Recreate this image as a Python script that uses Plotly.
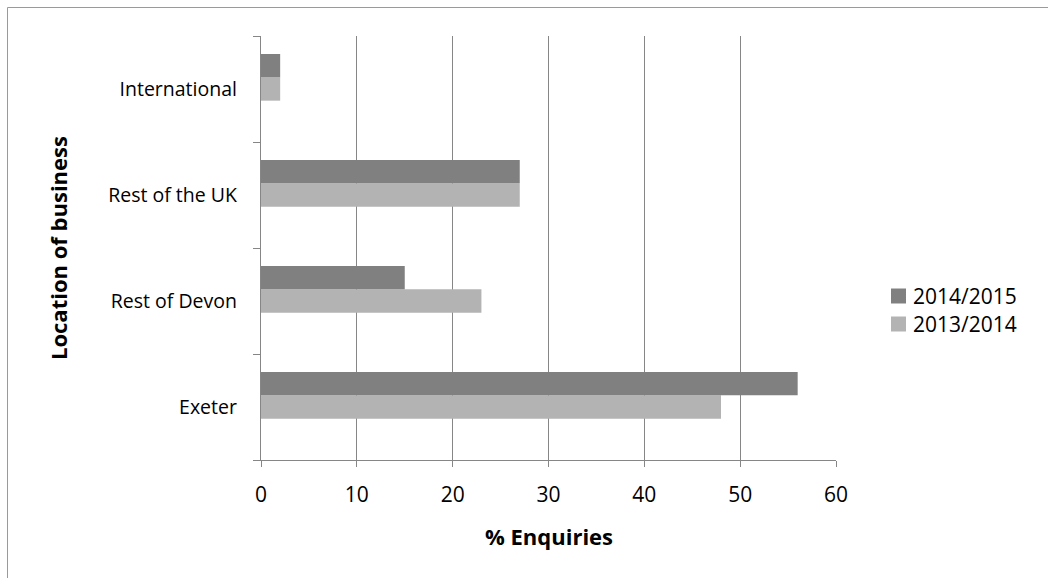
import plotly.graph_objects as go

# Enquiries by location of business (%)
locations = ["Exeter", "Rest of Devon", "Rest of the UK", "International"]
pct_2013_2014 = [48, 23, 27, 2]
pct_2014_2015 = [56, 15, 27, 2]
x_ticks = [0, 10, 20, 30, 40, 50, 60]

W, H = 1048, 578
L, R, T, B = 261, 212, 36, 118
plot_w = W - L - R
plot_h = H - T - B

font_family = "Open Sans, Noto Sans, sans-serif"
axis_grey = "#868686"

# Bars sit in the upper two of three slots in each category band
bar_w = 0.22

series = [
    ("2013/2014", pct_2013_2014, "#b3b3b3", -0.5 * bar_w),
    ("2014/2015", pct_2014_2015, "#808080", 0.5 * bar_w),
]

fig = go.Figure()
for name, values, color, offset in series:
    fig.add_trace(go.Bar(
        y=locations, x=values, orientation="h", name=name,
        width=bar_w, offset=offset, showlegend=False,
        marker=dict(color=color, line=dict(width=0)),
    ))

def px_x(px):
    return (px - L) / plot_w

def px_y(py):
    return (H - py - B) / plot_h

# Outer chart frame
fig.add_shape(
    type="rect", xref="paper", yref="paper",
    x0=px_x(7.5), x1=px_x(W + 20), y0=px_y(7.5), y1=px_y(H + 20),
    line=dict(color="#9a9a9a", width=1), fillcolor="rgba(0,0,0,0)",
    layer="below",
)

# Legend: newest season first
legend_rows = [(296, series[1]), (324, series[0])]
for cy, (name, _, color, _) in legend_rows:
    fig.add_shape(
        type="rect", xref="paper", yref="paper",
        x0=px_x(891), x1=px_x(906), y0=px_y(cy - 7.5), y1=px_y(cy + 7.5),
        line=dict(width=0), fillcolor=color,
    )
    fig.add_annotation(
        text=name, xref="paper", yref="paper",
        x=px_x(912), y=px_y(cy), xanchor="left", yanchor="middle",
        showarrow=False, borderpad=0,
        font=dict(size=21, family=font_family, color="black"),
    )

# Axis titles
fig.add_annotation(
    text="<b>% Enquiries</b>", xref="paper", yref="paper",
    x=0.5, y=px_y(536), xanchor="center", yanchor="middle",
    showarrow=False, font=dict(size=22, family=font_family, color="black"),
)
fig.add_annotation(
    text="<b>Location of business</b>", xref="paper", yref="paper",
    x=px_x(58), y=0.5, xanchor="center", yanchor="middle", textangle=-90,
    showarrow=False, font=dict(size=22, family=font_family, color="black"),
)

fig.update_layout(
    width=W, height=H,
    margin=dict(l=L, r=R, t=T, b=B, autoexpand=False),
    paper_bgcolor="white", plot_bgcolor="white",
    barmode="overlay",
    font=dict(family=font_family, size=21, color="black"),
    showlegend=False,
    xaxis=dict(
        range=[0, 60], tickvals=x_ticks, ticktext=[str(v) for v in x_ticks],
        showgrid=True, gridcolor=axis_grey, gridwidth=1.3,
        showline=True, linecolor=axis_grey, linewidth=1.3,
        ticks="outside", ticklen=6, tickcolor=axis_grey, tickwidth=1.3,
        zeroline=False, tickfont=dict(size=21),
        ticklabelstandoff=10, automargin=False,
    ),
    yaxis=dict(
        type="category", categoryorder="array", categoryarray=locations,
        range=[-0.5, len(locations) - 0.5],
        showline=True, linecolor=axis_grey, linewidth=1.3,
        ticks="outside", ticklen=7, tickcolor=axis_grey, tickwidth=1.3,
        tickson="boundaries", showgrid=False,
        tickfont=dict(size=19.5), ticklabelstandoff=19, automargin=False,
    ),
)

fig.write_html("out.html")
